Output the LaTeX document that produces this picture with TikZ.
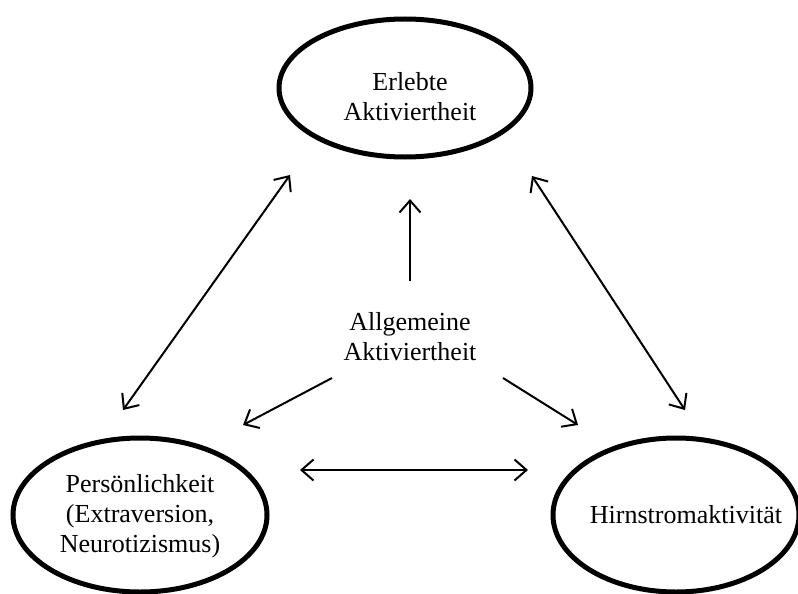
\documentclass[tikz,border=0pt]{standalone}
\usepackage{fontspec}
\setmainfont{Liberation Serif}
\usetikzlibrary{shapes.geometric,arrows.meta}
\begin{document}
\begin{tikzpicture}[x=1pt,y=-1pt,
  oval/.style={draw,ellipse,line width=5pt,inner sep=0pt},
  lbl/.style={align=center,inner sep=0pt,font=\fontsize{26}{30}\selectfont},
  tip/.style={Straight Barb[length=12pt,width=21pt,line width=2pt]},
  link/.style={line width=2pt,-{Straight Barb[length=12pt,width=21pt,line width=2pt]}},
  both/.style={line width=2pt,{Straight Barb[length=12pt,width=21pt,line width=2pt]}-{Straight Barb[length=12pt,width=21pt,line width=2pt]}}]
\useasboundingbox (0,0) rectangle (798,594);
\fill[white] (0,0) rectangle (798,594);

% the three constructs
\node[oval,minimum width=252pt,minimum height=138pt] (erl) at (405,88) {};
\node[lbl] (erlt) at (410,97) {Erlebte\\Aktiviertheit};
\node[oval,minimum width=254pt,minimum height=154pt] (pers) at (140,515) {};
\node[lbl] (perst) at (140,516) {Persönlichkeit\\(Extraversion,\\Neurotizismus)};
\node[oval,minimum width=246pt,minimum height=154pt] (hirn) at (676,515) {};
\node[lbl] (hirnt) at (686,515) {Hirnstromaktivität};

% central construct
\node[lbl] (allg) at (410,337) {Allgemeine\\Aktiviertheit};

% arrow end points
\coordinate (v0) at (410,281);
\coordinate (v1) at (410,199);
\coordinate (l0) at (332,378);
\coordinate (l1) at (243,425);
\coordinate (r0) at (503,378);
\coordinate (r1) at (578,425);
\coordinate (pa) at (123,410);
\coordinate (ea) at (290,175);
\coordinate (eb) at (532,176);
\coordinate (hb) at (685,410);
\coordinate (ph) at (300,470);
\coordinate (hp) at (528,470);

\draw[link] (v0) -- (v1);
\draw[link] (l0) -- (l1);
\draw[link] (r0) -- (r1);
\draw[both] (pa) -- (ea);
\draw[both] (eb) -- (hb);
\draw[both] (ph) -- (hp);
\end{tikzpicture}
\end{document}
